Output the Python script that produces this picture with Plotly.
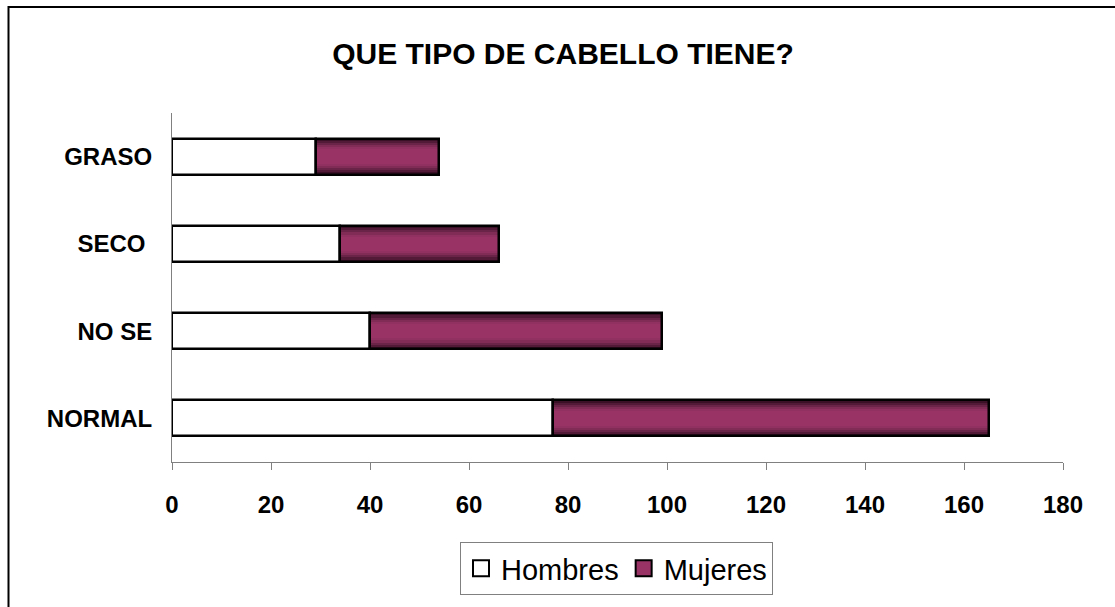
import plotly.graph_objects as go

# Survey answers: hair type, split by sex
categorias = ["NORMAL", "NO SE", "SECO ", "GRASO"]
hombres = [77, 40, 34, 29]
mujeres = [88, 59, 32, 25]
ticks_x = [0, 20, 40, 60, 80, 100, 120, 140, 160, 180]

FONT = "Arial, Liberation Sans, sans-serif"
BAR_W = 0.41
PLUM = "#993366"
# shading bands for the Mujeres bars: dark edges fading to plum in the middle
bandas = [(1.00, "#3a1026"), (0.88, "#531a37"), (0.76, "#6a2448"),
          (0.64, "#802c56"), (0.52, "#913161"), (0.40, PLUM)]

fig = go.Figure()

fig.add_trace(go.Bar(
    y=categorias, x=hombres, base=0, orientation="h", width=BAR_W,
    name="Hombres", showlegend=False,
    marker=dict(color="white", line=dict(color="black", width=2.5)),
))

for frac, col in bandas:
    fig.add_trace(go.Bar(
        y=categorias, x=mujeres, base=hombres, orientation="h", width=BAR_W * frac,
        marker=dict(color=col, line=dict(width=0)), showlegend=False, hoverinfo="skip",
    ))

fig.add_trace(go.Bar(
    y=categorias, x=mujeres, base=hombres, orientation="h", width=BAR_W,
    marker=dict(color="rgba(0,0,0,0)", line=dict(color="black", width=2.5)),
    showlegend=False, name="Mujeres",
))

# legend entries (square swatches)
for nombre, col in [("Hombres", "white"), ("Mujeres", PLUM)]:
    fig.add_trace(go.Scatter(
        x=[None], y=[None], mode="markers", name=nombre,
        marker=dict(symbol="square", size=18, color=col, line=dict(color="black", width=2)),
    ))

# plot area geometry in pixels
L, R, T, B = 172, 1063, 113, 467
W, H = R - L, B - T

def px_x(p):
    return (p - L) / W

def px_y(p):
    return (B - p) / H

fig.add_shape(type="rect", xref="paper", yref="paper",
              x0=px_x(8.5), x1=px_x(1140), y0=px_y(640), y1=px_y(5.5),
              line=dict(color="black", width=2), fillcolor="rgba(0,0,0,0)", layer="below")

fig.update_layout(
    width=1115, height=607,
    margin=dict(l=L, r=1115 - R, t=T, b=607 - B),
    paper_bgcolor="white", plot_bgcolor="white",
    barmode="overlay",
    font=dict(family=FONT, color="black"),
    title=dict(text="<b>QUE TIPO DE CABELLO TIENE?</b>", font=dict(size=30, family=FONT),
               x=563 / 1115, xanchor="center", xref="container",
               y=1 - 53 / 607, yanchor="middle", yref="container"),
    xaxis=dict(range=[0, 180], tickvals=ticks_x, showgrid=False, zeroline=False,
               showline=True, linecolor="#808080", linewidth=1,
               ticks="outside", ticklen=7, tickcolor="#808080", tickwidth=1,
               ticklabelstandoff=14,
               tickfont=dict(size=24, family=FONT, color="black", weight="bold")),
    yaxis=dict(categoryorder="array", categoryarray=categorias, range=[-0.5, 3.5],
               showgrid=False, zeroline=False, showline=True, linecolor="#808080",
               linewidth=1, ticks="", ticklabelstandoff=14,
               tickfont=dict(size=24, family=FONT, color="black", weight="bold")),
    legend=dict(orientation="h", x=px_x(460), xanchor="left", y=px_y(548), yanchor="top",
                bordercolor="#808080", borderwidth=1, bgcolor="white",
                font=dict(size=29, family=FONT), itemwidth=30, itemsizing="trace",
                traceorder="normal"),
    bargap=0,
)

fig.write_html("out.html")
